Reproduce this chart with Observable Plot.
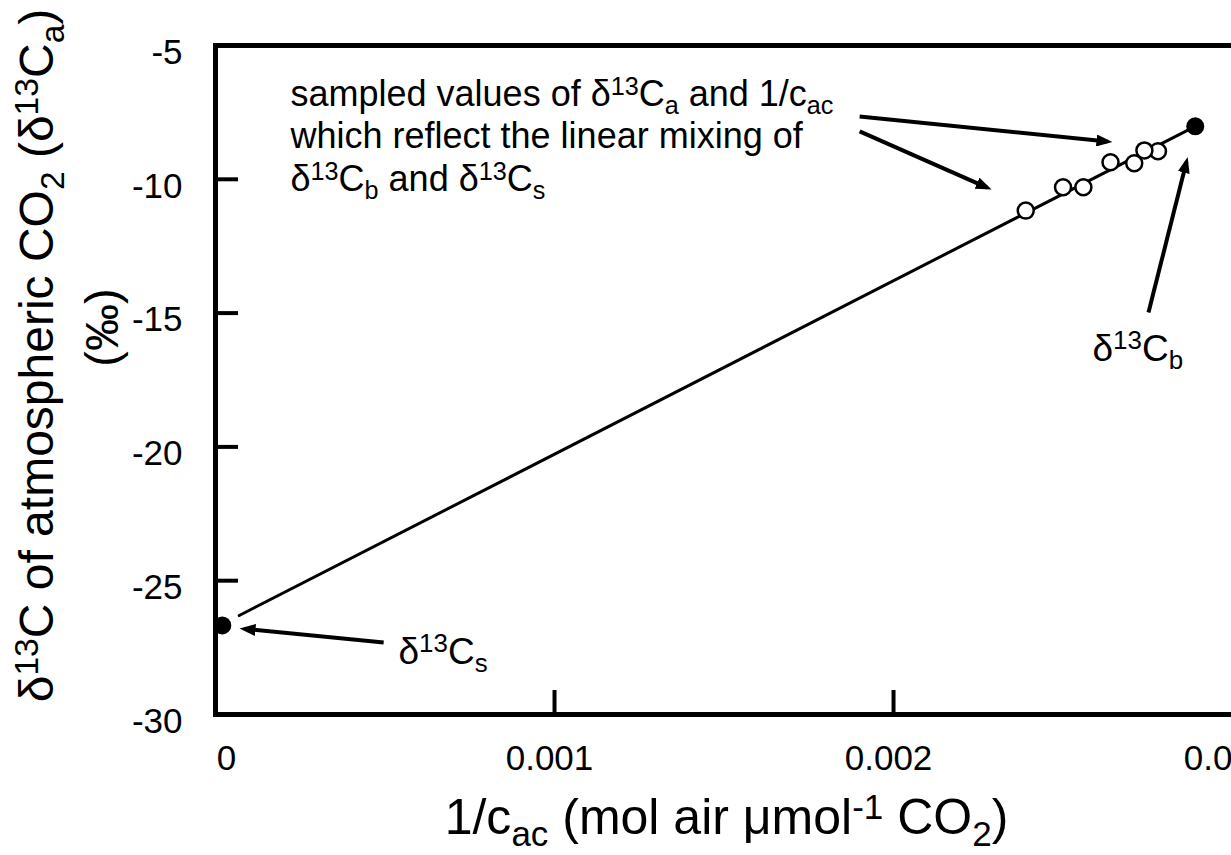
<!DOCTYPE html>
<html>
<head>
<meta charset="utf-8">
<script src="https://cdn.jsdelivr.net/npm/d3@7"></script>
<script src="https://cdn.jsdelivr.net/npm/@observablehq/plot@0.6"></script>
<style>
  html, body { margin: 0; padding: 0; background: white; overflow: hidden; }
  #chart { width: 1231px; height: 855px; overflow: hidden; }
</style>
</head>
<body>
<div id="chart"></div>
<script>
// ---- data ----
const sampleX = [0.00239, 0.00250, 0.00256, 0.00264, 0.00271, 0.00274, 0.00278]; // 1/c_ac of sampled air
const sampleY = [-11.17, -10.30, -10.30, -9.36, -9.40, -8.92, -8.95];            // δ13C_a of sampled air
const endX = [0.00002, 0.00289];   // δ13C_s intercept, δ13C_b background
const endY = [-26.67, -8.02];
const lineX = [0.00007, 0.00289];  // linear mixing line
const lineY = [-26.30, -8.02];
const xTicks = [0, 0.001, 0.002, 0.003];
const yTicks = [-30, -25, -20, -15, -10, -5];
const xDomain = [0, 0.00305];
const yDomain = [-30, -5];

const annLines = [
  "sampled values of δ^{13}C_{a} and 1/c_{ac}",
  "which reflect the linear mixing of",
  "δ^{13}C_{b} and δ^{13}C_{s}"
];
const labelS = "δ^{13}C_{s}";
const labelB = "δ^{13}C_{b}";
const xTitle = "1/c_{ac} (mol air μmol^{-1} CO_{2})";
const yTitle = "δ^{13}C of atmospheric CO_{2} (δ^{13}C_{a})";
const yTitle2 = "(‰)";

const samples = sampleX.map((x, i) => ({x, y: sampleY[i]}));
const ends = endX.map((x, i) => ({x, y: endY[i]}));
const mixLine = lineX.map((x, i) => ({x, y: lineY[i]}));

const W = 1300, H = 855, ML = 215, MR = 51, MT = 45, MB = 141;
const plotW = W - ML - MR, plotH = H - MT - MB;
const font = "'Liberation Sans', Arial, sans-serif";

const arrows = [
  {x1: 0.00190, y1: -7.65, x2: 0.002631, y2: -8.59},
  {x1: 0.00190, y1: -8.21, x2: 0.002276, y2: -10.31},
  {x1: 0.002752, y1: -14.98, x2: 0.002864, y2: -9.35},
  {x1: 0.000496, y1: -27.31, x2: 0.0000855, y2: -26.80}
];

const fmtX = d => d === 0 ? "0" : d.toFixed(3);

const chart = Plot.plot({
  width: W, height: H,
  marginLeft: ML, marginRight: MR, marginTop: MT, marginBottom: MB,
  style: {fontFamily: font, maxWidth: "none", background: "white", overflow: "visible"},
  x: {domain: xDomain, axis: null},
  y: {domain: yDomain, axis: null},
  marks: [
    Plot.line(mixLine, {x: "x", y: "y", stroke: "black", strokeWidth: 3}),
    Plot.link(arrows, {x1: "x1", y1: "y1", x2: "x2", y2: "y2", stroke: "black", strokeWidth: 4}),
    Plot.dot(samples.slice().reverse(), {x: "x", y: "y", r: 8, fill: "white", stroke: "black", strokeWidth: 2.5}),
    Plot.dot(ends, {x: "x", y: "y", r: 9, fill: "black", stroke: "none"}),
    Plot.tickX(xTicks.filter(d => d > 0 && d < 0.003), {x: d => d, insetTop: plotH - 24, stroke: "black", strokeWidth: 4}),
    Plot.tickY(yTicks.filter(d => d > -30 && d < -5), {y: d => d, insetRight: plotW - 23, stroke: "black", strokeWidth: 4}),
    Plot.frame({stroke: "black", strokeWidth: 5}),
    // tick labels
    Plot.text(xTicks.filter(d => d === 0), {x: d => d, frameAnchor: "bottom", dx: 11, dy: 31, lineAnchor: "top", textAnchor: "middle",
      fontSize: 35, text: fmtX}),
    Plot.text(xTicks.filter(d => d !== 0), {x: d => d, frameAnchor: "bottom", dx: -5, dy: 31, lineAnchor: "top", textAnchor: "middle",
      fontSize: 35, text: fmtX}),
    Plot.text(yTicks, {y: d => d, frameAnchor: "left", dx: -33, dy: 7, lineAnchor: "middle", textAnchor: "end",
      fontSize: 35, text: d => String(d)}),
    // annotations
    ...annLines.map((t, i) => Plot.text([t], {frameAnchor: "top-left", dx: 75, dy: [60, 102, 145][i],
      textAnchor: "start", lineAnchor: "bottom", fontSize: 36})),
    Plot.text([labelS], {frameAnchor: "top-left", dx: 183, dy: 618, textAnchor: "start", lineAnchor: "bottom", fontSize: 37}),
    Plot.text([labelB], {frameAnchor: "top-left", dx: 877, dy: 315, textAnchor: "start", lineAnchor: "bottom", fontSize: 37}),
    // axis titles
    Plot.text([xTitle], {frameAnchor: "bottom", dx: -6, dy: 119, textAnchor: "middle", lineAnchor: "bottom", fontSize: 50}),
    Plot.text([yTitle], {frameAnchor: "left", dx: -163, dy: -24.5, rotate: -90, textAnchor: "middle", lineAnchor: "bottom", fontSize: 48}),
    Plot.text([yTitle2], {frameAnchor: "left", dx: -98, dy: -52.5, rotate: -90, textAnchor: "middle", lineAnchor: "bottom", fontSize: 47})
  ]
});

document.getElementById("chart").appendChild(chart);

// ---- rich text: ^{..} superscripts, _{..} subscripts ----
const NS = "http://www.w3.org/2000/svg";
function richify(t) {
  const s = t.textContent;
  if (!/[\^_]\{/.test(s)) return;
  const fs = parseFloat(getComputedStyle(t).fontSize);
  while (t.firstChild) t.removeChild(t.firstChild);
  const re = /([\^_])\{([^}]*)\}/g;
  let last = 0, m, shift = 0;
  const add = (txt, size, target) => {
    const ts = document.createElementNS(NS, "tspan");
    ts.textContent = txt;
    if (size) ts.setAttribute("font-size", size);
    const dy = target - shift;
    if (dy) ts.setAttribute("dy", dy);
    shift = target;
    t.appendChild(ts);
  };
  while ((m = re.exec(s))) {
    if (m.index > last) add(s.slice(last, m.index), null, 0);
    add(m[2], fs * 0.7, m[1] === "^" ? -0.3 * fs : 0.24 * fs);
    last = re.lastIndex;
  }
  if (last < s.length) add(s.slice(last), null, 0);
}
chart.querySelectorAll("text").forEach(richify);

// ---- filled arrowheads on links ----
const defs = document.createElementNS(NS, "defs");
const marker = document.createElementNS(NS, "marker");
marker.setAttribute("id", "ahead");
marker.setAttribute("viewBox", "0 0 16 12");
marker.setAttribute("refX", "11");
marker.setAttribute("refY", "6");
marker.setAttribute("markerWidth", "16");
marker.setAttribute("markerHeight", "12");
marker.setAttribute("markerUnits", "userSpaceOnUse");
marker.setAttribute("orient", "auto");
const mp = document.createElementNS(NS, "path");
mp.setAttribute("d", "M0,0L16,6L0,12Z");
mp.setAttribute("fill", "black");
marker.appendChild(mp);
defs.appendChild(marker);
chart.insertBefore(defs, chart.firstChild);
chart.querySelectorAll('g[aria-label="link"] path').forEach(p => p.setAttribute("marker-end", "url(#ahead)"));
</script>
</body>
</html>
